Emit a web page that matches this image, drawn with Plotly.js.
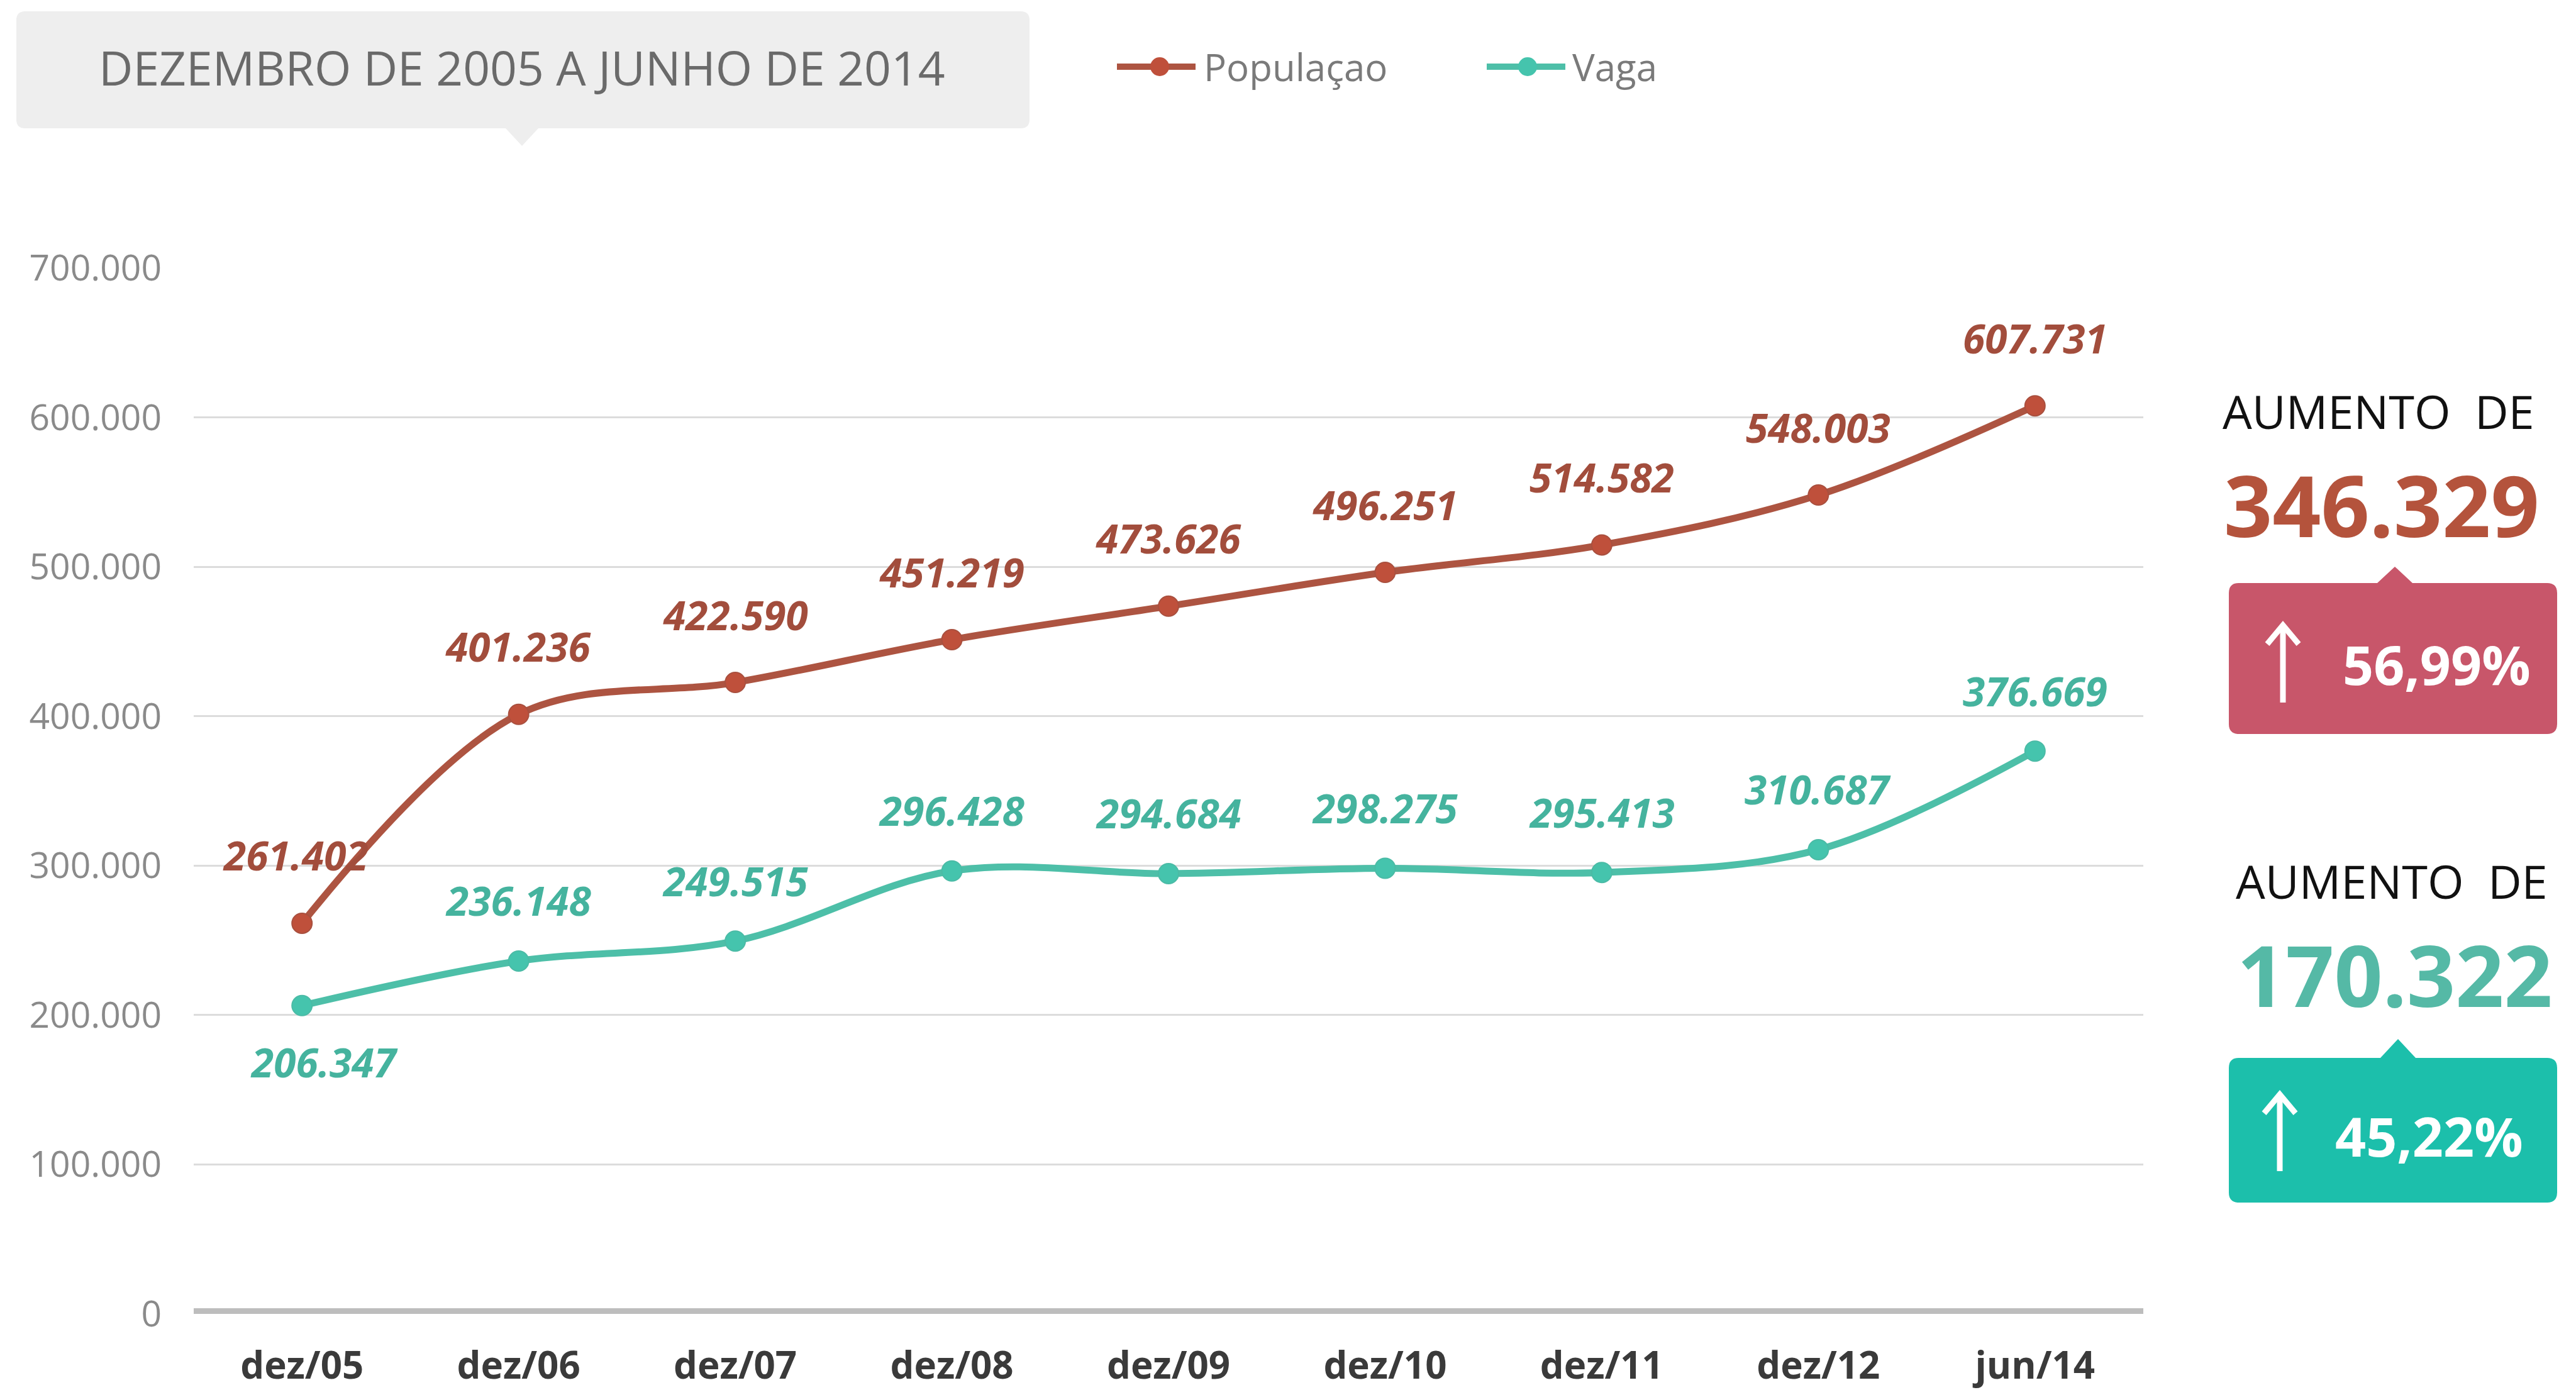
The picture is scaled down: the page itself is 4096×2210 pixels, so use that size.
<!DOCTYPE html>
<html><head><meta charset="utf-8">
<script src="https://cdn.plot.ly/plotly-3.0.1.min.js"></script>
<style>html,body{margin:0;padding:0;background:#fff;} #chart{width:4096px;height:2210px;}</style>
</head><body><div id="chart"></div>
<script>
// ---------- data ----------
const categories = ['dez/05','dez/06','dez/07','dez/08','dez/09','dez/10','dez/11','dez/12','jun/14'];
const populacao = [261402, 401236, 422590, 451219, 473626, 496251, 514582, 548003, 607731];
const vaga = [206347, 236148, 249515, 296428, 294684, 298275, 295413, 310687, 376669];
const seriesNames = ['Populaçao', 'Vaga'];
const yTickVals = [0, 100000, 200000, 300000, 400000, 500000, 600000, 700000];
const yTickText = ['0', '100.000', '200.000', '300.000', '400.000', '500.000', '600.000', '700.000'];
const titleText = 'DEZEMBRO DE 2005 A JUNHO DE 2014';
const aumentoLabel = 'AUMENTO&nbsp; DE';
const aumentoPop = '346.329';
const pctPop = '56,99%';
const aumentoVaga = '170.322';
const pctVaga = '45,22%';

// ---------- geometry helpers ----------
const W = 4096, H = 2210, mL = 308, mR = 688, mT = 426, mB = 121;
const pw = W - mL - mR, ph = H - mT - mB;
const PX = x => (x - mL) / pw;
const PY = y => (H - mB - y) / ph;
const pt = (x, y) => PX(x).toFixed(5) + ',' + PY(y).toFixed(5);

function fmt(v) {
  const t = Math.floor(v / 1000), r = v % 1000;
  return t + '.' + String(r).padStart(3, '0');
}

function boxPath(x0, y0, x1, y1, r, ptr) {
  let d = 'M' + pt(x0 + r, y0);
  if (ptr && ptr.side === 'top') {
    d += ' L' + pt(ptr.x - ptr.half, y0) + ' L' + pt(ptr.x, ptr.tip) + ' L' + pt(ptr.x + ptr.half, y0);
  }
  d += ' L' + pt(x1 - r, y0) + ' Q' + pt(x1, y0) + ' ' + pt(x1, y0 + r);
  d += ' L' + pt(x1, y1 - r) + ' Q' + pt(x1, y1) + ' ' + pt(x1 - r, y1);
  if (ptr && ptr.side === 'bottom') {
    d += ' L' + pt(ptr.x + ptr.half, y1) + ' L' + pt(ptr.x, ptr.tip) + ' L' + pt(ptr.x - ptr.half, y1);
  }
  d += ' L' + pt(x0 + r, y1) + ' Q' + pt(x0, y1) + ' ' + pt(x0, y1 - r);
  d += ' L' + pt(x0, y0 + r) + ' Q' + pt(x0, y0) + ' ' + pt(x0 + r, y0) + ' Z';
  return d;
}

function arrowShapes(x, yTop, yBot, color) {
  return [
    {type: 'line', xref: 'paper', yref: 'paper', x0: PX(x), x1: PX(x), y0: PY(yBot), y1: PY(yTop + 4),
     line: {color: color, width: 9}},
    {type: 'path', xref: 'paper', yref: 'paper',
     path: 'M' + pt(x - 25, yTop + 30) + ' L' + pt(x, yTop) + ' L' + pt(x + 25, yTop + 30),
     line: {color: color, width: 9}}
  ];
}

// ---------- colours ----------
const popLine = '#ad5441', popMarker = '#bf503b', popLabel = '#a24d3c';
const vagaLine = '#4dbfa8', vagaMarker = '#45c4ad', vagaLabel = '#45b39e';

// ---------- traces ----------
const traces = [
  {x: categories, y: populacao, name: seriesNames[0], type: 'scatter', mode: 'lines+markers',
   line: {color: popLine, width: 11, shape: 'spline', smoothing: 1},
   marker: {color: popMarker, size: 32, line: {color: '#a9503f', width: 2}},
   cliponaxis: false, hoverinfo: 'x+y'},
  {x: categories, y: vaga, name: seriesNames[1], type: 'scatter', mode: 'lines+markers',
   line: {color: vagaLine, width: 11, shape: 'spline', smoothing: 1},
   marker: {color: vagaMarker, size: 32, line: {color: '#4bbba6', width: 2}},
   cliponaxis: false, hoverinfo: 'x+y'}
];

// ---------- annotations ----------
const labelFont = (c) => ({family: 'Open Sans', size: 64, color: c, weight: 700, style: 'italic'});
const annotations = [];
categories.forEach((c, i) => {
  annotations.push({x: c, y: populacao[i], xref: 'x', yref: 'y', text: fmt(populacao[i]), showarrow: false,
    yshift: 108, xshift: i === 0 ? -10 : 0, font: labelFont(popLabel)});
  const below = i === 0;
  annotations.push({x: c, y: vaga[i], xref: 'x', yref: 'y', text: fmt(vaga[i]), showarrow: false,
    yshift: below ? -90 : 96, xshift: below ? 36 : 0, font: labelFont(vagaLabel)});
});

// title
annotations.push({xref: 'paper', yref: 'paper', x: PX(830), y: PY(107), text: titleText, showarrow: false,
  xanchor: 'center', yanchor: 'middle', font: {family: 'Open Sans', size: 75, color: '#6a6a6a'}});

// legend
annotations.push({xref: 'paper', yref: 'paper', x: PX(1912), y: PY(106), text: seriesNames[0], showarrow: false,
  xanchor: 'left', yanchor: 'middle', font: {family: 'Open Sans', size: 60, color: '#7a7a7a'}});
annotations.push({xref: 'paper', yref: 'paper', x: PX(2498), y: PY(106), text: seriesNames[1], showarrow: false,
  xanchor: 'left', yanchor: 'middle', font: {family: 'Open Sans', size: 60, color: '#7a7a7a'}});

// right panel
annotations.push({xref: 'paper', yref: 'paper', x: PX(3782), y: PY(653), text: aumentoLabel, showarrow: false,
  xanchor: 'center', yanchor: 'middle', font: {family: 'Open Sans', size: 74, color: '#111111'}});
annotations.push({xref: 'paper', yref: 'paper', x: PX(3787), y: PY(802), text: aumentoPop, showarrow: false,
  xanchor: 'center', yanchor: 'middle', font: {family: 'Open Sans', size: 135, color: '#b4533c', weight: 700}});
annotations.push({xref: 'paper', yref: 'paper', x: PX(3874), y: PY(1055), text: pctPop, showarrow: false,
  xanchor: 'center', yanchor: 'middle', font: {family: 'Open Sans', size: 86, color: '#ffffff', weight: 700}});
annotations.push({xref: 'paper', yref: 'paper', x: PX(3803), y: PY(1400), text: aumentoLabel, showarrow: false,
  xanchor: 'center', yanchor: 'middle', font: {family: 'Open Sans', size: 74, color: '#111111'}});
annotations.push({xref: 'paper', yref: 'paper', x: PX(3808), y: PY(1549), text: aumentoVaga, showarrow: false,
  xanchor: 'center', yanchor: 'middle', font: {family: 'Open Sans', size: 135, color: '#55b9a6', weight: 700}});
annotations.push({xref: 'paper', yref: 'paper', x: PX(3862), y: PY(1805), text: pctVaga, showarrow: false,
  xanchor: 'center', yanchor: 'middle', font: {family: 'Open Sans', size: 86, color: '#ffffff', weight: 700}});

// ---------- shapes ----------
const shapes = [
  // title box
  {type: 'path', xref: 'paper', yref: 'paper', layer: 'below',
   path: boxPath(26, 18, 1637, 204, 14, {side: 'bottom', x: 830, tip: 232, half: 26}),
   fillcolor: '#eeeeee', line: {width: 0}},
  // baseline
  {type: 'line', xref: 'paper', yref: 'y', x0: 0, x1: 1, y0: 0, y1: 0, layer: 'below',
   line: {color: '#bdbdbd', width: 18}},
  // legend lines + markers
  {type: 'line', xref: 'paper', yref: 'paper', x0: PX(1776), x1: PX(1901), y0: PY(106), y1: PY(106),
   line: {color: popLine, width: 10}},
  {type: 'circle', xref: 'paper', yref: 'paper', x0: PX(1829), x1: PX(1859), y0: PY(91), y1: PY(121),
   fillcolor: popMarker, line: {width: 0}},
  {type: 'line', xref: 'paper', yref: 'paper', x0: PX(2364), x1: PX(2489), y0: PY(106), y1: PY(106),
   line: {color: vagaLine, width: 10}},
  {type: 'circle', xref: 'paper', yref: 'paper', x0: PX(2414), x1: PX(2444), y0: PY(91), y1: PY(121),
   fillcolor: vagaMarker, line: {width: 0}},
  // red box
  {type: 'path', xref: 'paper', yref: 'paper',
   path: boxPath(3544, 927, 4066, 1167, 16, {side: 'top', x: 3808, tip: 901, half: 28}),
   fillcolor: '#c8566a', line: {width: 0}},
  // teal box
  {type: 'path', xref: 'paper', yref: 'paper',
   path: boxPath(3544, 1682, 4066, 1912, 16, {side: 'top', x: 3813, tip: 1652, half: 28}),
   fillcolor: '#1cbfab', line: {width: 0}}
].concat(arrowShapes(3630, 994, 1117, '#ffffff'), arrowShapes(3625, 1740, 1862, '#ffffff'));

const layout = {
  width: W, height: H,
  margin: {l: mL, r: mR, t: mT, b: mB, pad: 0},
  paper_bgcolor: '#ffffff', plot_bgcolor: '#ffffff',
  showlegend: false,
  xaxis: {type: 'category', range: [-0.5, 8.5], showgrid: false, zeroline: false, showline: false, ticks: '',
    ticklabelstandoff: 42,
    tickfont: {family: 'Open Sans', size: 60, color: '#3a3a3a', weight: 700}},
  yaxis: {range: [0, 700000], tickvals: yTickVals, ticktext: yTickText, showgrid: true, gridcolor: '#dcdcdc',
    gridwidth: 3, zeroline: false, showline: false, ticks: '', ticklabelstandoff: 50,
    tickfont: {family: 'Open Sans', size: 57, color: '#8a8a8a'}},
  shapes: shapes,
  annotations: annotations
};

Plotly.newPlot('chart', traces, layout, {staticPlot: true});
</script>
</body></html>
